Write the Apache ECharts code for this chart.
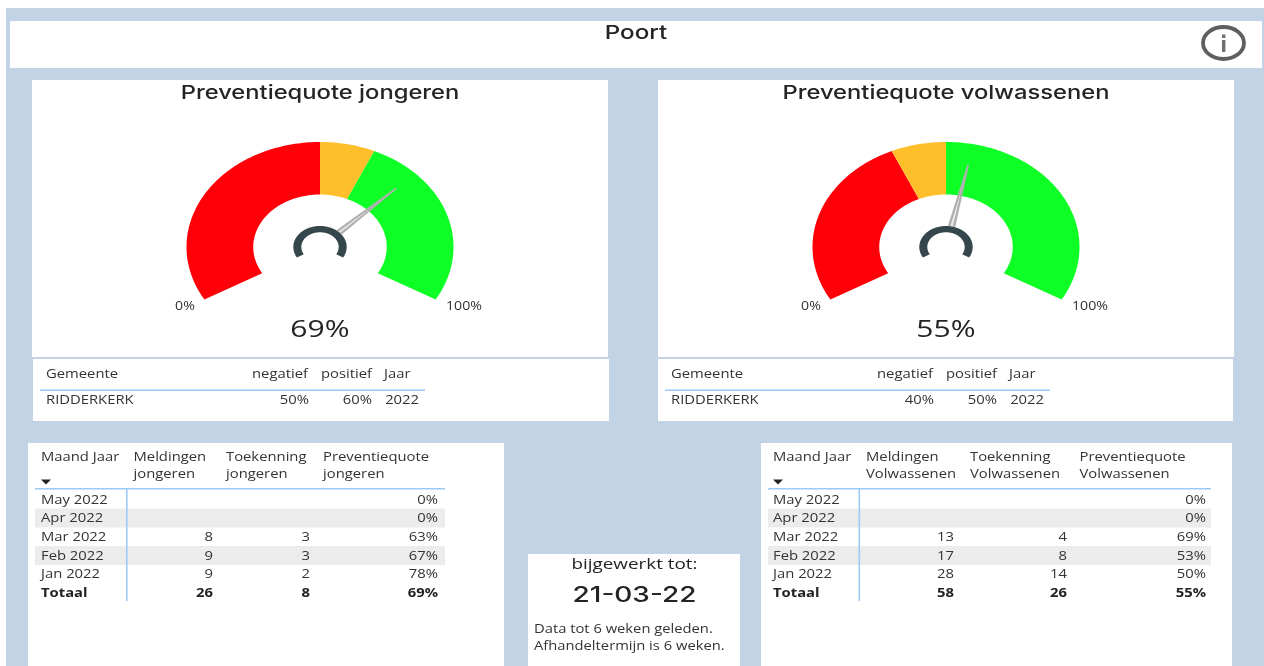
<!DOCTYPE html>
<html><head><meta charset="utf-8">
<style>html,body{margin:0;padding:0;background:#fff;overflow:hidden}#c{width:1264px;height:666px}</style>
<script src="https://cdn.jsdelivr.net/npm/echarts@6/dist/echarts.min.js"></script>
</head><body><div id="c"></div>
<script>
// ---------- data ----------
const pageTitle = 'Poort';
const gaugeTitles = ['Preventiequote jongeren', 'Preventiequote volwassenen'];
const gaugeValues = [69, 55];
const negatief = [50, 40];
const positief = [60, 50];
const jaar = [2022, 2022];
const gemeente = 'RIDDERKERK';
const months = ['May 2022', 'Apr 2022', 'Mar 2022', 'Feb 2022', 'Jan 2022'];
const meldingenJongeren = ['', '', 8, 9, 9];
const toekenningJongeren = ['', '', 3, 3, 2];
const quoteJongeren = [0, 0, 63, 67, 78];
const totaalJongeren = [26, 8, 69];
const meldingenVolwassenen = ['', '', 13, 17, 28];
const toekenningVolwassenen = ['', '', 4, 8, 14];
const quoteVolwassenen = [0, 0, 69, 53, 50];
const totaalVolwassenen = [58, 26, 55];
const headersJongeren = [['Meldingen', 'jongeren'], ['Toekenning', 'jongeren'], ['Preventiequote', 'jongeren']];
const headersVolwassenen = [['Meldingen', 'Volwassenen'], ['Toekenning', 'Volwassenen'], ['Preventiequote', 'Volwassenen']];

// ---------- style ----------
const BG = '#C3D3E6', BLUE = '#9CCBFA', STRIPE = '#ECECEC', INK = '#333333', DARK = '#252423';
const RED = '#FF0009', AMBER = '#FFBF2B', GREEN = '#0DFF25', HUB = '#36464D', NEEDLE = '#B0B0B0';
const BODY = '"Open Sans"', HEAD = 'Inter';
const g = [];
const rect = (x, y, w, h, fill) => g.push({type: 'rect', silent: true, shape: {x, y, width: w, height: h}, style: {fill}});
const txt = (text, x, y, o = {}) => g.push({
  type: 'text', silent: true, x, y: y + 1.5, scaleX: o.sx || 1.255, z: 5,
  style: {text: String(text), align: o.align || 'left', textAlign: o.align || 'left', verticalAlign: 'middle', textVerticalAlign: 'middle',
    font: `${o.weight || 'normal'} ${o.size || 12}px ${o.family || BODY}`, fill: o.fill || INK}
});

// page
rect(6, 8, 1258, 658, BG);
rect(10, 21, 1252, 47, '#fff');
rect(32, 80, 576, 277, '#fff'); rect(658, 80, 576, 277, '#fff');
rect(33, 359, 576, 62, '#fff'); rect(658, 359, 575, 62, '#fff');
rect(28, 443, 476, 223, '#fff'); rect(761, 443, 471, 223, '#fff');
rect(528, 554, 212, 112, '#fff');
txt(pageTitle, 636, 32, {size: 19, family: HEAD, fill: DARK, sx: 1.27, align: 'center', weight: 500});
// info icon
g.push({type: 'ellipse', silent: true, shape: {cx: 1223.5, cy: 43, rx: 20.5, ry: 16}, style: {fill: 'none', stroke: '#5F5F5F', lineWidth: 3.8}});
rect(1222, 40, 3.4, 12, '#707070'); rect(1222, 34.5, 3.4, 3.5, '#707070');

// gauge panels
const gaugeCx = [320, 946];
gaugeTitles.forEach((t, i) => {
  txt(t, gaugeCx[i], 91.5, {size: 19, family: HEAD, fill: DARK, sx: 1.25, align: 'center', weight: 500});
  txt('0%', gaugeCx[i] - 135, 305, {size: 11.8, sx: 1.2, align: 'center'});
  txt('100%', gaugeCx[i] + 144, 305, {size: 11.8, sx: 1.2, align: 'center'});
  txt(gaugeValues[i] + '%', gaugeCx[i], 329, {size: 23.5, sx: 1.28, align: 'center', fill: DARK});
  const o = i ? 625 : 0;
  [['Gemeente', 46], ['negatief', 252], ['positief', 321], ['Jaar', 384]].forEach(c => txt(c[0], c[1] + o, 373.5, {size: 11.8}));
  rect(40 + o, 389.5, 385, 1.5, BLUE);
  txt(gemeente, 46 + o, 399.5, {size: 11.8});
  txt(negatief[i] + '%', 309 + o, 399.5, {size: 11.8, align: 'right'});
  txt(positief[i] + '%', 372 + o, 399.5, {size: 11.8, align: 'right'});
  txt(jaar[i], 419 + o, 399.5, {size: 11.8, align: 'right'});
});

// month tables
const rowY = [499.5, 518, 537, 555.5, 574];
function table(x0, x1, lineX, textX, headLeft, rights, headers, c1, c2, c3, tot) {
  rect(x0, 488, x1 - x0, 1.5, BLUE);
  [1, 3].forEach(i => rect(x0, rowY[i] - 9.5, x1 - x0, 19, STRIPE));
  rect(lineX, 489, 1.6, 112, BLUE);
  txt('Maand Jaar', textX, 456, {size: 11.8});
  g.push({type: 'polygon', silent: true, shape: {points: [[textX, 479.5], [textX + 10, 479.5], [textX + 5, 484.5]]}, style: {fill: '#222'}});
  headers.forEach((h, j) => {
    txt(h[0], headLeft[j], 456, {size: 11.8});
    txt(h[1], headLeft[j], 473, {size: 11.8});
  });
  months.forEach((m, i) => {
    txt(m, textX, rowY[i] - .5, {size: 11.8});
    txt(c1[i], rights[0], rowY[i] - .5, {size: 11.8, align: 'right'});
    txt(c2[i], rights[1], rowY[i] - .5, {size: 11.8, align: 'right'});
    txt(c3[i] + '%', rights[2], rowY[i] - .5, {size: 11.8, align: 'right'});
  });
  txt('Totaal', textX, 592, {size: 11.8, weight: 'bold', fill: '#222'});
  txt(tot[0], rights[0], 592, {size: 11.8, weight: 'bold', align: 'right', fill: '#222'});
  txt(tot[1], rights[1], 592, {size: 11.8, weight: 'bold', align: 'right', fill: '#222'});
  txt(tot[2] + '%', rights[2], 592, {size: 11.8, weight: 'bold', align: 'right', fill: '#222'});
}
table(35, 445, 126, 41, [133.5, 226, 323], [213, 310, 438], headersJongeren, meldingenJongeren, toekenningJongeren, quoteJongeren, totaalJongeren);
table(768, 1211, 858.5, 773, [866, 970, 1079.5], [954, 1067, 1206], headersVolwassenen, meldingenVolwassenen, toekenningVolwassenen, quoteVolwassenen, totaalVolwassenen);

// update box
txt('bijgewerkt tot:', 634.5, 563, {size: 14.5, sx: 1.3, align: 'center', fill: DARK, weight: 500});
txt('21-03-22', 634.5, 594, {size: 21, family: HEAD, sx: 1.33, align: 'center', fill: DARK, weight: 500});
txt('Data tot 6 weken geleden.', 534, 628.5, {size: 11.8, sx: 1.25});
txt('Afhandeltermijn is 6 weken.', 534, 645.5, {size: 11.8, sx: 1.25});

// ---------- gauge marks, drawn on hidden value axes (-1..1) ----------
const angle = v => (210 - v / 100 * 240) * Math.PI / 180;
const onCircle = (v, r) => [r * Math.cos(angle(v)), r * Math.sin(angle(v))];
function band(rOut, rIn, fill) {
  return (p, api) => {
    const lo = api.value(0), hi = api.value(1), pts = [];
    const n = Math.ceil((hi - lo) * 2);
    for (let k = 0; k <= n; k++) pts.push(api.coord(onCircle(lo + (hi - lo) * k / n, rOut)));
    for (let k = n; k >= 0; k--) pts.push(api.coord(onCircle(lo + (hi - lo) * k / n, rIn)));
    return {type: 'polygon', shape: {points: pts}, style: {fill: fill[p.dataIndex]}};
  };
}
function needle(p, api) {
  const v = api.value(0), a = angle(v);
  const perp = [-Math.sin(a), Math.cos(a)], at = (r, w) => api.coord([r * Math.cos(a) + w * perp[0], r * Math.sin(a) + w * perp[1]]);
  return {type: 'group', children: [
    {type: 'polygon', shape: {points: [at(.2, .028), at(.8, .006), at(.8, -.006), at(.2, -.028)]}, style: {fill: NEEDLE}},
    {type: 'polygon', shape: {points: [at(.2, .009), at(.5, .0015), at(.5, -.0015), at(.2, -.009)]}, style: {fill: '#E8E8E8'}}
  ]};
}
const grids = [], xs = [], ys = [], series = [];
gaugeCx.forEach((cx, i) => {
  grids.push({left: cx - 133.5, top: 142, width: 267, height: 210});
  xs.push({type: 'value', min: -1, max: 1, interval: 1, show: false, gridIndex: i});
  ys.push({type: 'value', min: -1, max: 1, interval: 1, show: false, gridIndex: i});
  const base = {type: 'custom', xAxisIndex: i, yAxisIndex: i, clip: false, silent: true, coordinateSystem: 'cartesian2d', encode: {x: 0, y: 1}};
  series.push({...base, name: 'zones', renderItem: band(1, .5, [RED, AMBER, GREEN]),
    data: [[0, negatief[i]], [negatief[i], positief[i]], [positief[i], 100]]});
  series.push({...base, name: 'needle', z: 3, renderItem: needle, data: [[gaugeValues[i], 0]]});
  series.push({...base, name: 'hub', z: 4, renderItem: band(.2, .14, [HUB]), data: [[0, 100]]});
});

const chart = echarts.init(document.getElementById('c'));
chart.setOption({animation: false, grid: grids, xAxis: xs, yAxis: ys, series, graphic: {elements: g}});
</script></body></html>
